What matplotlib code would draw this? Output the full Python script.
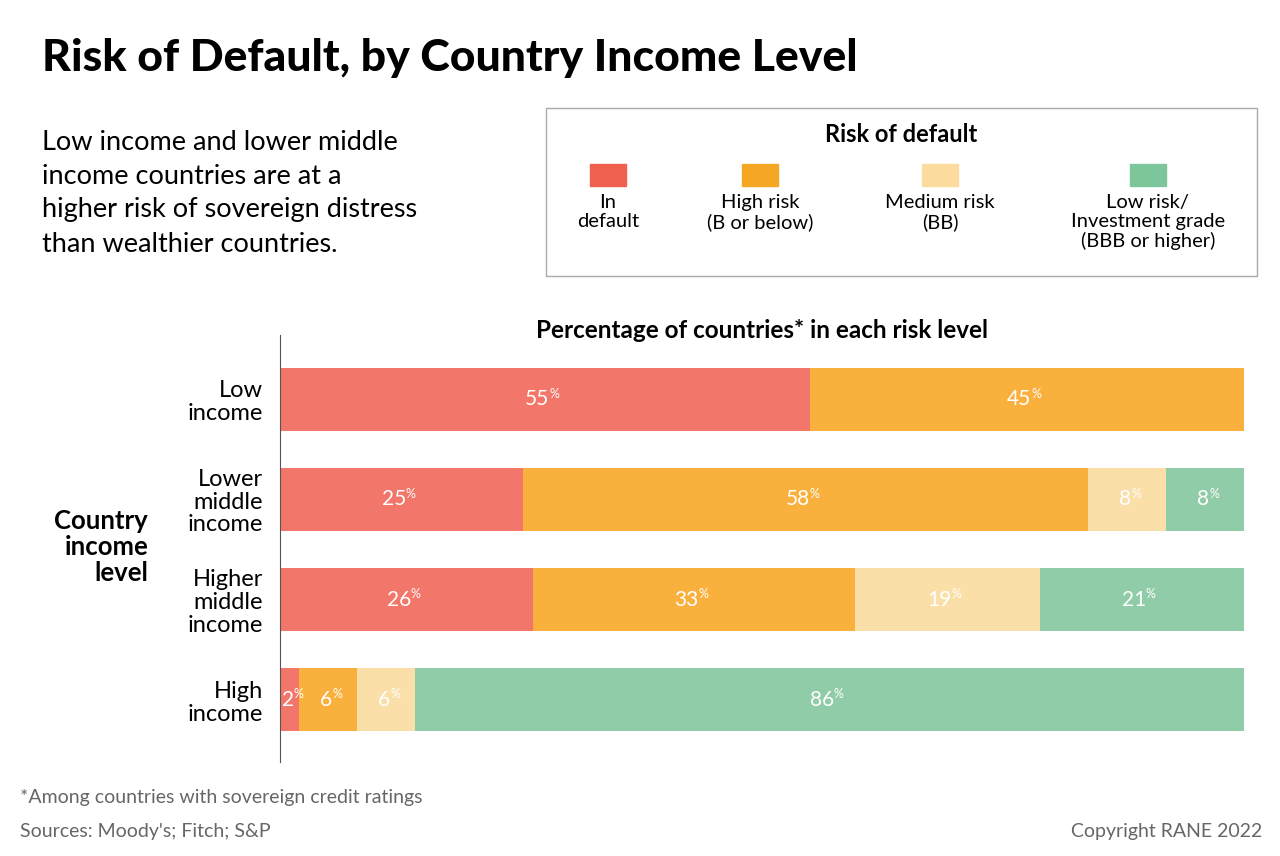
import matplotlib
matplotlib.use("Agg")
import matplotlib.pyplot as plt
from matplotlib.patches import Rectangle

plt.rcParams['font.family'] = ['Lato', 'DejaVu Sans']

categories = ["Low\nincome", "Lower\nmiddle\nincome", "Higher\nmiddle\nincome", "High\nincome"]
series_names = ["In\ndefault", "High risk\n(B or below)", "Medium risk\n(BB)", "Low risk/\nInvestment grade\n(BBB or higher)"]
in_default = [55, 25, 26, 2]
high_risk = [45, 58, 33, 6]
medium_risk = [0, 8, 19, 6]
low_risk = [0, 8, 21, 86]
bar_colors = ["#F27669", "#F9B03D", "#FADFA8", "#8FCCA7"]
legend_colors = ["#F0604F", "#F5A623", "#FBDC9E", "#7DC59A"]

W, H = 1280, 856
fig = plt.figure(figsize=(12.8, 8.56), dpi=100)
def fx(x): return x / W
def fy(y): return 1 - y / H

fig.text(fx(42), fy(58), "Risk of Default, by Country Income Level", fontsize=32, fontweight='black', va='center')
fig.text(fx(42), fy(193), "Low income and lower middle\nincome countries are at a\nhigher risk of sovereign distress\nthan wealthier countries.",
         fontsize=19.5, va='center', linespacing=1.45)

# legend box
fig.patches.append(Rectangle((fx(546), fy(276)), fx(1257 - 546), (276 - 108) / H, transform=fig.transFigure,
                             fill=False, edgecolor='#aaaaaa', lw=1))
fig.text(fx(901), fy(134), "Risk of default", fontsize=17, fontweight='bold', ha='center', va='center')
lx = [608, 760, 940, 1148]
for x, c, n in zip(lx, legend_colors, series_names):
    fig.patches.append(Rectangle((fx(x - 18), fy(186)), fx(36), 22 / H, transform=fig.transFigure, color=c))
    fig.text(fx(x), fy(194), n, fontsize=14.5, ha='center', va='top', linespacing=1.15)

ax = fig.add_axes([fx(280), fy(762), fx(1244 - 280), (762 - 335) / H])
series = [in_default, high_risk, medium_risk, low_risk]
n = len(categories)
ypos = [3 - i * 1.0 for i in range(n)]
for i in range(n):
    tot = sum(s[i] for s in series)
    left = 0
    for s, c in zip(series, bar_colors):
        v = s[i]
        if v == 0:
            continue
        w = v / tot * 100
        ax.barh(ypos[i], w, left=left, height=0.63, color=c)
        cx = left + w / 2
        ax.annotate(str(v), (cx, ypos[i]), xytext=(3, 0), textcoords='offset points',
                    ha='right', va='center', color='white', fontsize=15)
        ax.annotate("%", (cx, ypos[i]), xytext=(3, 4), textcoords='offset points',
                    ha='left', va='center', color='white', fontsize=9)
        left += w
ax.set_xlim(0, 100)
ax.set_ylim(-0.62, 3.62 + 0.02)
for sp in ['top', 'right', 'bottom']:
    ax.spines[sp].set_visible(False)
ax.spines['left'].set_color('#555555')
ax.set_xticks([])
ax.set_yticks(ypos)
ax.set_yticklabels(categories, fontsize=17, linespacing=1.1)
ax.tick_params(axis='y', length=0, pad=12)

fig.text(fx(762), fy(331), "Percentage of countries* in each risk level", fontsize=17.5, fontweight='bold', ha='center', va='center')
fig.text(fx(148), fy(547), "Country\nincome\nlevel", fontsize=18.5, fontweight='bold', ha='right', va='center', linespacing=1.1)

fig.text(fx(20), fy(798), "*Among countries with sovereign credit ratings", fontsize=14, color='#666666', va='center')
fig.text(fx(20), fy(832), "Sources: Moody's; Fitch; S&P", fontsize=14, color='#666666', va='center')
fig.text(fx(1262), fy(832), "Copyright RANE 2022", fontsize=14, color='#666666', va='center', ha='right')

fig.savefig("out.png", dpi=100)
